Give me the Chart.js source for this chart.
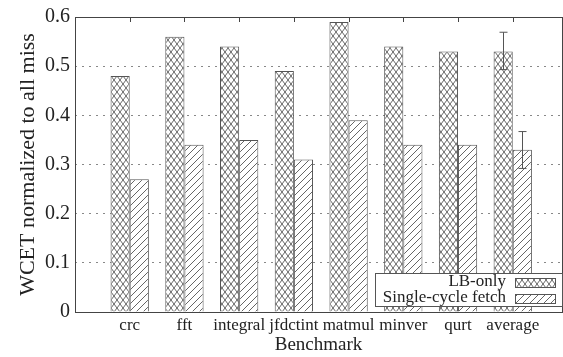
<!DOCTYPE html>
<html>
<head>
<meta charset="utf-8">
<script src="https://cdn.jsdelivr.net/npm/chart.js@4/dist/chart.umd.min.js"></script>
<style>
  html, body { margin: 0; padding: 0; background: #fff; }
  #wrap { width: 563px; height: 357px; }
</style>
</head>
<body>
<div id="wrap"><canvas id="grafico" width="563" height="357"></canvas></div>
<script>
const categories = ["crc", "fft", "integral", "jfdctint", "matmul", "minver", "qurt", "average"];
const lbOnly = [0.48, 0.56, 0.54, 0.49, 0.59, 0.54, 0.53, 0.53];
const singleCycle = [0.27, 0.34, 0.35, 0.31, 0.39, 0.34, 0.34, 0.33];
// error range on the "average" bars [low, high]
const lbOnlyErr = [0.493, 0.569];
const singleCycleErr = [0.292, 0.367];
const seriesNames = ["LB-only", "Single-cycle fetch"];

const serif = "'Liberation Serif', 'DejaVu Serif', serif";
const lineCol = "#444";

function crossPattern() {
    const c = document.createElement("canvas");
    c.width = 6; c.height = 8;
    const g = c.getContext("2d");
    g.fillStyle = "#fff";
    g.fillRect(0, 0, 6, 8);
    g.strokeStyle = "#666";
    g.lineWidth = 1;
    g.beginPath();
    g.moveTo(0, 0); g.lineTo(6, 8);
    g.moveTo(6, 0); g.lineTo(0, 8);
    g.stroke();
    return g.createPattern(c, "repeat");
}

function hatchPattern() {
    const c = document.createElement("canvas");
    c.width = 7; c.height = 7;
    const g = c.getContext("2d");
    g.fillStyle = "#fff";
    g.fillRect(0, 0, 7, 7);
    g.strokeStyle = "#666";
    g.lineWidth = 1;
    g.beginPath();
    g.moveTo(-1, 8); g.lineTo(8, -1);
    g.moveTo(-1, 1); g.lineTo(1, -1);
    g.moveTo(6, 8); g.lineTo(8, 6);
    g.stroke();
    return g.createPattern(c, "repeat");
}

const fills = [crossPattern(), hatchPattern()];

const frame = {
    id: "frame",
    afterDatasetsDraw(chart) {
        const ctx = chart.ctx;
        const a = chart.chartArea;
        const xs = chart.scales.x;
        const ys = chart.scales.y;
        ctx.save();

        // error bars on the average group
        const errs = [lbOnlyErr, singleCycleErr];
        ctx.strokeStyle = "#555";
        ctx.lineWidth = 1;
        errs.forEach((e, d) => {
            const bar = chart.getDatasetMeta(d).data[categories.length - 1];
            const x = Math.round(bar.x) + 0.5;
            const y1 = ys.getPixelForValue(e[0]);
            const y2 = ys.getPixelForValue(e[1]);
            ctx.beginPath();
            ctx.moveTo(x, y1); ctx.lineTo(x, y2);
            ctx.moveTo(x - 4, y2); ctx.lineTo(x + 4, y2);
            ctx.moveTo(x - 4, y1); ctx.lineTo(x + 4, y1);
            ctx.stroke();
        });

        // plot frame
        ctx.strokeStyle = lineCol;
        ctx.strokeRect(Math.round(a.left) + 0.5, Math.round(a.top) + 0.5,
            Math.round(a.right - a.left), Math.round(a.bottom - a.top));

        // small ticks on the top edge
        ctx.beginPath();
        categories.forEach((c, i) => {
            const x = Math.round(xs.getPixelForValue(i)) + 0.5;
            ctx.moveTo(x, a.top);
            ctx.lineTo(x, a.top + 5);
        });
        ctx.stroke();

        // legend box in lower right
        const bx = 375, by = 273, bw = Math.round(a.right) - bx, bh = 33;
        ctx.fillStyle = "#fff";
        ctx.fillRect(bx, by, bw, bh);
        ctx.strokeStyle = "#555";
        ctx.strokeRect(bx + 0.5, by + 0.5, bw, bh);
        ctx.font = "17px " + serif;
        ctx.textAlign = "right";
        ctx.textBaseline = "middle";
        seriesNames.forEach((n, i) => {
            const ty = by + 9 + i * 16;
            ctx.fillStyle = "#222";
            ctx.fillText(n, 506, ty);
            ctx.fillStyle = fills[i];
            ctx.fillRect(515, ty - 4, 40, 9);
            ctx.strokeStyle = "#555";
            ctx.strokeRect(515.5, ty - 3.5, 40, 9);
        });
        ctx.restore();
    }
};

function criarGrafico() {
    const canvas = document.getElementById("grafico");
    new Chart(canvas, {
        type: "bar",
        data: {
            datasets: [
                {
                    label: seriesNames[0],
                    data: lbOnly.map((v, i) => ({ x: i, y: v })),
                    backgroundColor: fills[0],
                    borderColor: "#555",
                    borderWidth: 1
                },
                {
                    label: seriesNames[1],
                    data: singleCycle.map((v, i) => ({ x: i, y: v })),
                    backgroundColor: fills[1],
                    borderColor: "#555",
                    borderWidth: 1
                }
            ]
        },
        options: {
            responsive: false,
            animation: false,
            categoryPercentage: 0.7,
            barPercentage: 1.0,
            layout: { padding: { top: 12, right: 1, left: 0, bottom: 0 } },
            plugins: { legend: { display: false }, tooltip: { enabled: false } },
            scales: {
                x: {
                    type: "linear",
                    min: -1,
                    max: 7.9,
                    offset: false,
                    grid: { display: false, drawTicks: false },
                    border: { display: false },
                    ticks: {
                        stepSize: 1,
                        autoSkip: false,
                        maxRotation: 0,
                        padding: 3,
                        color: "#222",
                        font: { family: serif, size: 17 },
                        callback: (v) => categories[v] || ""
                    },
                    afterBuildTicks: (s) => {
                        s.ticks = categories.map((c, i) => ({ value: i }));
                    },
                    afterFit: (s) => { s.height = 45; },
                    title: {
                        display: true,
                        text: "Benchmark",
                        color: "#222",
                        font: { family: serif, size: 19 },
                        padding: { top: 0, bottom: 1 }
                    }
                },
                y: {
                    min: 0,
                    max: 0.6,
                    grid: {
                        color: (c) => (c.tick.value > 0.001 && c.tick.value < 0.599) ? "#888" : "rgba(0,0,0,0)",
                        drawTicks: false
                    },
                    border: { display: false, dash: [2, 5] },
                    ticks: {
                        stepSize: 0.1,
                        padding: 5,
                        color: "#222",
                        font: { family: serif, size: 20 },
                        callback: (v) => String(Math.round(v * 10) / 10)
                    },
                    afterFit: (s) => { s.width = 75; },
                    title: {
                        display: true,
                        text: "WCET normalized to all miss",
                        color: "#222",
                        font: { family: serif, size: 22 },
                        padding: { top: 15, bottom: 0 }
                    }
                }
            }
        },
        plugins: [frame]
    });
}

window.onload = criarGrafico;
</script>
</body>
</html>
